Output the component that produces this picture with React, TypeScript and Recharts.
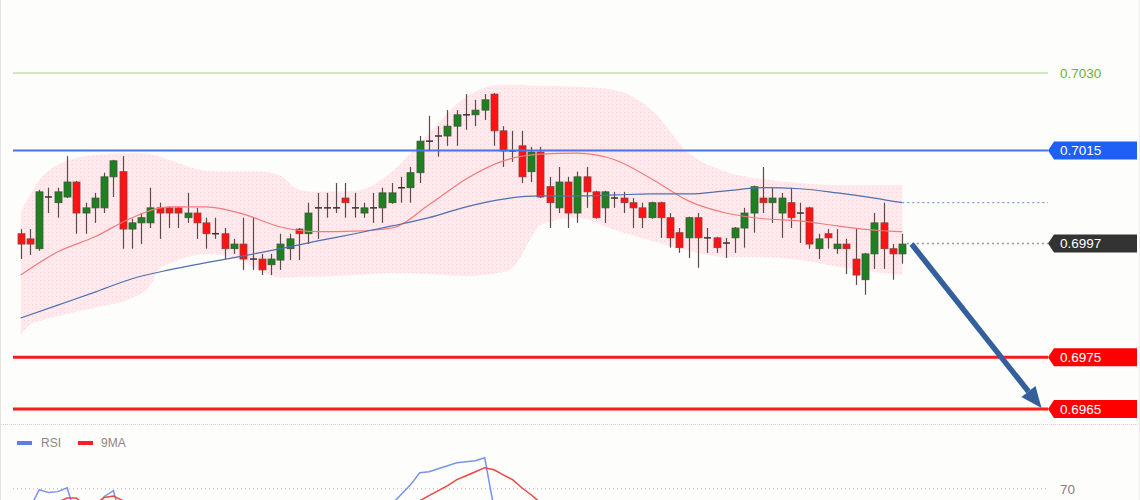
import React from "react";
import { ComposedChart, Bar, Line, Area, XAxis, YAxis, ReferenceLine } from "recharts";

// candles (price)
const OPEN = [
  0.69989, 0.69979, 0.6996, 0.7006, 0.70049, 0.7006, 0.70089, 0.70029, 0.70039, 0.70039,
  0.70099, 0.70109, 0.69998, 0.7001, 0.7001, 0.70039, 0.70039, 0.70039, 0.7002, 0.70029,
  0.7001, 0.69989, 0.69989, 0.6996, 0.69969, 0.6994, 0.6994, 0.69929, 0.69938, 0.6996,
  0.69998, 0.69989, 0.70039, 0.70039, 0.70039, 0.70058, 0.70039, 0.70029, 0.70039, 0.70039,
  0.70049, 0.70078, 0.70078, 0.70107, 0.70168, 0.70178, 0.70178, 0.70197, 0.70219, 0.70219,
  0.70228, 0.70259, 0.70188, 0.70149, 0.70159, 0.70109, 0.70147, 0.7008, 0.70039, 0.70089,
  0.70029, 0.70099, 0.7007, 0.70039, 0.70058, 0.70058, 0.70049, 0.70039, 0.7002, 0.70049,
  0.7002, 0.69991, 0.69981, 0.7002, 0.69981, 0.69981, 0.69971, 0.69981, 0.7, 0.70029,
  0.70058, 0.70049, 0.70029, 0.70049, 0.70029, 0.70039, 0.6996, 0.69989, 0.6996, 0.69969,
  0.6994, 0.699, 0.6995, 0.7001, 0.6996, 0.6995,
];
const HIGH = [
  0.69998, 0.69998, 0.70074, 0.70078, 0.70078, 0.70139, 0.70091, 0.70049, 0.70068, 0.70107,
  0.70132, 0.70139, 0.70018, 0.70029, 0.70078, 0.70049, 0.70041, 0.70041, 0.70068, 0.70039,
  0.7002, 0.7002, 0.7, 0.69979, 0.7002, 0.7002, 0.6995, 0.6995, 0.69989, 0.69989,
  0.7, 0.70049, 0.70068, 0.70068, 0.70087, 0.70087, 0.70068, 0.70049, 0.70068, 0.70078,
  0.70087, 0.70099, 0.70118, 0.70178, 0.70217, 0.70197, 0.70228, 0.70228, 0.70259, 0.70248,
  0.70259, 0.70261, 0.70197, 0.70188, 0.70188, 0.70157, 0.70157, 0.70099, 0.70118, 0.70099,
  0.70109, 0.70118, 0.70072, 0.70072, 0.7007, 0.7007, 0.70058, 0.70049, 0.70051, 0.70051,
  0.70029, 0.7, 0.70022, 0.70029, 0.7, 0.69983, 0.69981, 0.70002, 0.70039, 0.70082,
  0.70118, 0.70078, 0.70068, 0.70078, 0.70049, 0.70041, 0.69989, 0.69998, 0.69998, 0.69979,
  0.69998, 0.69952, 0.70029, 0.70049, 0.69969, 0.69989,
];
const LOW = [
  0.6994, 0.69948, 0.69956, 0.70029, 0.7002, 0.70058, 0.69989, 0.69989, 0.7001, 0.70029,
  0.7006, 0.6996, 0.6996, 0.69969, 0.7, 0.69979, 0.7, 0.7, 0.7001, 0.69979,
  0.6996, 0.69979, 0.6994, 0.6995, 0.69919, 0.69919, 0.69909, 0.69909, 0.69919, 0.69938,
  0.69938, 0.69969, 0.69979, 0.7002, 0.70029, 0.7002, 0.7002, 0.7002, 0.7001, 0.7001,
  0.70047, 0.70049, 0.70049, 0.70087, 0.70149, 0.70138, 0.70159, 0.70159, 0.7019, 0.70197,
  0.70209, 0.70159, 0.70118, 0.70128, 0.70087, 0.70089, 0.70058, 0.7, 0.70029, 0.7,
  0.7001, 0.70039, 0.70018, 0.7001, 0.70039, 0.70029, 0.7, 0.7, 0.70018, 0.69981,
  0.69962, 0.69952, 0.69942, 0.69923, 0.69952, 0.69952, 0.69942, 0.69952, 0.69962, 0.69991,
  0.70029, 0.7001, 0.69981, 0.7, 0.69971, 0.6996, 0.6994, 0.6996, 0.6995, 0.69911,
  0.6989, 0.69871, 0.69921, 0.69921, 0.699, 0.69931,
];
const CLOSE = [
  0.69969, 0.69969, 0.7007, 0.7006, 0.7007, 0.70089, 0.70029, 0.70039, 0.70058, 0.70099,
  0.7013, 0.69998, 0.7001, 0.7002, 0.70039, 0.70029, 0.70029, 0.70029, 0.70029, 0.7001,
  0.69989, 0.69989, 0.6996, 0.69969, 0.6994, 0.6994, 0.69919, 0.6994, 0.69969, 0.69979,
  0.69989, 0.70029, 0.70039, 0.70039, 0.70039, 0.70049, 0.70039, 0.70039, 0.70039, 0.70068,
  0.70068, 0.70078, 0.70107, 0.70168, 0.70168, 0.70178, 0.70197, 0.70219, 0.70219, 0.70228,
  0.70248, 0.70188, 0.70149, 0.70149, 0.70099, 0.70147, 0.7006, 0.70049, 0.70089, 0.70029,
  0.70099, 0.7007, 0.7002, 0.7007, 0.70058, 0.70049, 0.70039, 0.7002, 0.70049, 0.7002,
  0.69981, 0.69962, 0.7002, 0.69981, 0.69981, 0.69962, 0.69971, 0.7, 0.70029, 0.7008,
  0.70049, 0.70058, 0.70058, 0.7002, 0.70029, 0.69969, 0.69979, 0.69981, 0.69969, 0.6996,
  0.69909, 0.6995, 0.7001, 0.6996, 0.6995, 0.69969,
];

// moving averages, sampled every few candles: [candle, price]
const MA_FAST = [
  [0, 0.69909], [4, 0.69954], [8, 0.69983], [12, 0.7002], [16, 0.70041], [20, 0.70041],
  [24, 0.70027], [28, 0.70002], [32, 0.69993], [36, 0.69994], [40, 0.7], [44, 0.70045],
  [48, 0.70095], [52, 0.7013], [56, 0.70143], [60, 0.70145], [64, 0.70132], [68, 0.70095],
  [72, 0.70052], [76, 0.70029], [80, 0.70018], [84, 0.70014], [88, 0.70004], [92, 0.69996],
  [95, 0.69993],
];
const MA_SLOW = [
  [0, 0.69826], [4, 0.69851], [8, 0.69876], [12, 0.69902], [16, 0.69919], [20, 0.69933],
  [24, 0.69946], [28, 0.6996], [32, 0.69975], [36, 0.69989], [40, 0.70004], [44, 0.7002],
  [48, 0.70041], [52, 0.70056], [56, 0.70062], [60, 0.70062], [64, 0.70064], [68, 0.70066],
  [72, 0.70066], [76, 0.70072], [80, 0.70078], [84, 0.70076], [88, 0.70068], [92, 0.70058],
  [95, 0.70049],
];
// bollinger envelope: [candle, lower, upper]
const BAND = [
  [0, 0.69793, 0.70031], [1, 0.69813, 0.70064], [2, 0.6982, 0.70093], [4, 0.6983, 0.70122],
  [8, 0.69846, 0.70141], [12, 0.69865, 0.70145], [14, 0.6989, 0.70143], [15, 0.69923, 0.70138],
  [16, 0.69931, 0.70132], [20, 0.6995, 0.70111], [24, 0.69935, 0.70109], [26, 0.69915, 0.70109],
  [28, 0.69904, 0.70101], [30, 0.69906, 0.70074], [32, 0.69906, 0.7007], [36, 0.69909, 0.70072],
  [40, 0.69913, 0.70109], [44, 0.69911, 0.70184], [48, 0.69907, 0.70254], [52, 0.69915, 0.70277],
  [53, 0.69923, 0.70277], [54, 0.69948, 0.70277], [55, 0.69981, 0.70275], [56, 0.70006, 0.70275],
  [60, 0.7002, 0.70273], [64, 0.69996, 0.70267], [68, 0.69975, 0.70228], [72, 0.69956, 0.70145],
  [76, 0.69944, 0.70109], [80, 0.69944, 0.70095], [84, 0.69938, 0.70087], [88, 0.69925, 0.70083],
  [92, 0.69915, 0.70083], [95, 0.69909, 0.70083],
];

// RSI panel, only the parts that show above the cut
const RSI = [
  [1, 60], [2, 69.5], [3, 68], [4, 68.5], [5, 70.5], [6, 55], [8, 58], [9, 66], [10, 69], [11, 50],
  [40, 62], [41, 67], [42, 72], [43, 78.3], [44, 78.8], [45, 80.3], [46, 81.9], [47, 83.4],
  [48, 84], [49, 84.5], [50, 86], [51, 60],
];
const RSI_MA = [
  [3, 60], [4, 63], [5, 65.2], [6, 65.2], [7, 61], [8, 62], [9, 65.5], [10, 66.2], [11, 63.8], [12, 61],
  [42, 60], [43, 63.8], [44, 66.4], [45, 69], [46, 71.6], [47, 74.7], [48, 76.7], [49, 78.8],
  [50, 80.9], [51, 79.8], [52, 77.2], [53, 74.7], [54, 70.5], [55, 66.9], [56, 62.8], [57, 59],
];

const RESISTANCE = 0.703;
const PIVOT = 0.7015;
const LAST_PRICE = 0.6997;
const TARGETS = [0.6975, 0.6965];
const ARROW_FROM = { x: 96, y: 0.69969 };
const ARROW_TO = { x: 110, y: 0.69652 };

const X_DOMAIN: [number, number] = [-0.83, 110.7];
const Y_DOMAIN: [number, number] = [0.69621, 0.70441];
const RSI_DOMAIN: [number, number] = [0, 103.5];

const FONT = "'Liberation Sans', Arial, sans-serif";

const fastMap = new Map(MA_FAST.map(([i, v]) => [i, v]));
const slowMap = new Map(MA_SLOW.map(([i, v]) => [i, v]));
const bandMap = new Map(BAND.map(([i, lo, up]) => [i, [lo, up]]));
const rsiMap = new Map(RSI.map(([i, v]) => [i, v]));
const rsiMaMap = new Map(RSI_MA.map(([i, v]) => [i, v]));

const mainData = OPEN.map((o, i) => ({
  i,
  o,
  h: HIGH[i],
  l: LOW[i],
  c: CLOSE[i],
  range: [LOW[i], HIGH[i]],
  fast: fastMap.get(i) ?? null,
  slow: slowMap.get(i) ?? null,
  band: bandMap.get(i) ?? [null, null],
}));

const rsiData = OPEN.map((_, i) => ({
  i,
  rsi: rsiMap.get(i) ?? null,
  rsiMa: rsiMaMap.get(i) ?? null,
}));

function Candle(props: any) {
  const { x, y, width, height, payload } = props;
  if (!payload || !Number.isFinite(y) || !Number.isFinite(height)) return <g />;
  const { o, h, l, c } = payload;
  const k = h > l ? height / (h - l) : 0;
  const py = (v: number) => y + (h - v) * k;
  const mid = Math.round(x + width / 2) + 0.5;
  const top = py(Math.max(o, c));
  const bot = py(Math.min(o, c));
  const up = c > o;
  return (
    <g>
      <line x1={mid} x2={mid} y1={y} y2={y + height} stroke="#5a4a4a" strokeWidth={1.2} />
      {o === c ? (
        <line x1={mid - 3.5} x2={mid + 3.5} y1={top} y2={top} stroke="#3a3030" strokeWidth={1.5} />
      ) : (
        <rect
          x={mid - 3.5}
          y={top}
          width={7}
          height={Math.max(bot - top, 1)}
          fill={up ? "#1f801f" : "#ff1212"}
          stroke={up ? "#3b563b" : "#8a4040"}
          strokeWidth={0.8}
        />
      )}
    </g>
  );
}

function PriceTag(props: any) {
  const { viewBox, text, bg, color = "#fff" } = props;
  if (!viewBox) return null;
  const x0 = viewBox.x + viewBox.width;
  const y0 = viewBox.y;
  return (
    <g>
      {bg ? (
        <path
          d={`M${x0},${y0} L${x0 + 6},${y0 - 9} L${x0 + 89},${y0 - 9} L${x0 + 89},${y0 + 9} L${x0 + 6},${y0 + 9} Z`}
          fill={bg}
        />
      ) : null}
      <text x={x0 + 12} y={y0} dy="0.36em" fill={color} fontSize={13.5} fontFamily={FONT}>
        {text}
      </text>
    </g>
  );
}

function ArrowShape(props: any) {
  const { x1, y1, x2, y2 } = props;
  const ang = Math.atan2(y2 - y1, x2 - x1);
  const len = 21;
  const half = 9;
  const bx = x2 - len * Math.cos(ang);
  const by = y2 - len * Math.sin(ang);
  const px = -Math.sin(ang) * half;
  const py = Math.cos(ang) * half;
  return (
    <g>
      <line x1={x1} y1={y1} x2={bx} y2={by} stroke="#33609b" strokeWidth={5.5} />
      <polygon points={`${x2},${y2} ${bx + px},${by + py} ${bx - px},${by - py}`} fill="#33609b" />
    </g>
  );
}

export default function App() {
  return (
    <div
      style={{
        position: "absolute",
        left: 0,
        top: 0,
        width: 1140,
        height: 500,
        overflow: "hidden",
        background: "#fdfdfb",
        fontFamily: FONT,
      }}
    >
      <div style={{ position: "absolute", left: 0, top: 0 }}>
        <ComposedChart
          width={1140}
          height={424}
          data={mainData}
          margin={{ top: 0, right: 92, bottom: 0, left: 13 }}
        >
          <defs>
            <pattern id="bbDots" width="4" height="4" patternUnits="userSpaceOnUse">
              <rect width="4" height="4" fill="#ffe9ec" />
              <rect width="1" height="1" fill="#f9d5d9" />
            </pattern>
          </defs>
          <XAxis dataKey="i" type="number" domain={X_DOMAIN} allowDataOverflow hide />
          <YAxis type="number" domain={Y_DOMAIN} allowDataOverflow hide />

          {/* bollinger envelope */}
          <Area
            dataKey="band"
            type="monotone"
            fill="url(#bbDots)"
            fillOpacity={1}
            stroke="none"
            connectNulls
            isAnimationActive={false}
          />
          <Line
            dataKey="fast"
            type="monotone"
            stroke="#f27b7b"
            strokeWidth={1.2}
            dot={false}
            activeDot={false}
            connectNulls
            isAnimationActive={false}
          />
          <Line
            dataKey="slow"
            type="monotone"
            stroke="#4d70b0"
            strokeWidth={1.2}
            dot={false}
            activeDot={false}
            connectNulls
            isAnimationActive={false}
          />
          <Bar dataKey="range" barSize={7} shape={(p: any) => <Candle {...p} />} isAnimationActive={false} />

          {/* levels */}
          <ReferenceLine
            y={RESISTANCE}
            stroke="#bfe0a9"
            strokeWidth={1.5}
            label={<PriceTag text="0.7030" color="#6cb23c" />}
          />
          <ReferenceLine
            y={PIVOT}
            stroke="#4475ee"
            strokeWidth={2}
            label={<PriceTag text="0.7015" bg="#1e5ff6" />}
          />
          <ReferenceLine
            segment={[{ x: 95, y: MA_SLOW[MA_SLOW.length - 1][1] }, { x: X_DOMAIN[1], y: MA_SLOW[MA_SLOW.length - 1][1] }]}
            stroke="#7d9ad6"
            strokeWidth={1.2}
            strokeDasharray="2 3"
          />
          <ReferenceLine
            segment={[{ x: 95.5, y: LAST_PRICE }, { x: X_DOMAIN[1], y: LAST_PRICE }]}
            stroke="#9a9a9a"
            strokeWidth={1.5}
            strokeDasharray="2 3"
          />
          <ReferenceLine y={LAST_PRICE} stroke="none" label={<PriceTag text="0.6997" bg="#333333" />} />
          {TARGETS.map((t) => (
            <ReferenceLine
              key={t}
              y={t}
              stroke="#ff1a1a"
              strokeWidth={3}
              label={<PriceTag text={t.toFixed(4)} bg="#ff0000" />}
            />
          ))}
          <ReferenceLine segment={[ARROW_FROM, ARROW_TO]} shape={(p: any) => <ArrowShape {...p} />} />
        </ComposedChart>
      </div>

      {/* panel divider */}
      <div
        style={{
          position: "absolute",
          left: 0,
          top: 424,
          width: 1140,
          borderTop: "1px dotted #e3c9c9",
        }}
      />

      <div style={{ position: "absolute", left: 0, top: 424 }}>
        <ComposedChart
          width={1140}
          height={200}
          data={rsiData}
          margin={{ top: 0, right: 92, bottom: 0, left: 13 }}
        >
          <XAxis dataKey="i" type="number" domain={X_DOMAIN} allowDataOverflow hide />
          <YAxis type="number" domain={RSI_DOMAIN} allowDataOverflow hide />
          <ReferenceLine
            y={70}
            stroke="#d9b0b0"
            strokeWidth={1}
            strokeDasharray="1 3"
            label={<PriceTag text="70" color="#808080" />}
          />
          <Line
            dataKey="rsi"
            type="linear"
            stroke="#7893ea"
            strokeWidth={1.5}
            dot={false}
            activeDot={false}
            isAnimationActive={false}
          />
          <Line
            dataKey="rsiMa"
            type="linear"
            stroke="#f24444"
            strokeWidth={1.5}
            dot={false}
            activeDot={false}
            isAnimationActive={false}
          />
        </ComposedChart>
      </div>

      {/* RSI legend */}
      <div
        style={{
          position: "absolute",
          left: 17,
          top: 436,
          display: "flex",
          alignItems: "center",
          fontSize: 12,
          color: "#888",
          lineHeight: "14px",
        }}
      >
        <span style={{ width: 15, height: 4, background: "#5b7fe3", marginRight: 9 }} />
        <span style={{ marginRight: 17 }}>RSI</span>
        <span style={{ width: 15, height: 4, background: "#ff1f1f", marginRight: 8 }} />
        <span>9MA</span>
      </div>

      {/* frame */}
      <div style={{ position: "absolute", left: 0, top: 0, width: 1, height: 500, background: "#e2e2e2" }} />
      <div style={{ position: "absolute", right: 0, top: 0, width: 1, height: 500, background: "#ececec" }} />
    </div>
  );
}
